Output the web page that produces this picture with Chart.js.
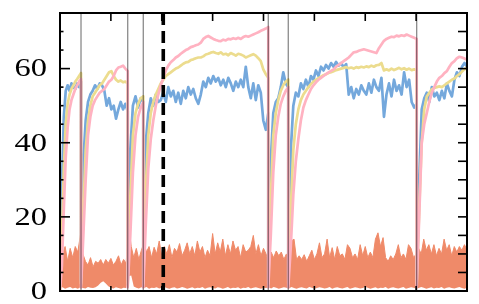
<!DOCTYPE html>
<html><head><meta charset="utf-8">
<script src="https://cdn.jsdelivr.net/npm/chart.js@4"></script>
<style>html,body{margin:0;padding:0;background:#fff}#wrap{width:479px;height:304px;position:relative}
#pre{position:absolute;left:-999px;top:0;font:26px "Liberation Serif";}</style>
</head><body><div id="wrap"><canvas id="c" width="479" height="304"></canvas></div><div id="pre">0246</div>
<script>
// ---- data ----
const taskBounds = [0, 0.413, 1.331, 1.637, 4.094, 4.487, 7.011, 8];
const dashedSwitch = 2.03;
const yLabels = [0, 20, 40, 60];
const xTickValues = [1, 2, 3, 4, 5, 6, 7];

const blueSegs = [
  [2, 28, 47, 54, 55.5, 54, 56, 55, 54.5, 56, 55, 56.5],
  [3, 35, 46, 51, 53, 54, 55.5, 54.5, 56, 55.5, 54, 50, 52, 49, 50, 46.5, 49, 51, 49, 50.5, 48.5],
  [3, 38, 50, 52.5, 49.5, 52, 51],
  [3, 40, 48, 52, 50, 53, 51, 51.5, 53.5, 51, 55, 52.5, 54, 51, 53.5, 50.5, 54, 52, 55, 53, 54.5, 52, 50.5, 53, 56.5, 55, 57.5, 56, 58, 56.5, 57.5, 55.5, 57, 55, 57.5, 56, 54, 56.5, 55, 57, 55, 60.5, 55, 52, 56, 51.5, 55.5, 53.5, 46, 43.5, 48],
  [3, 35, 48, 51, 52, 55, 59, 56, 55],
  [3, 38, 50, 53.5, 52.5, 56, 54.5, 57, 55, 58, 57, 59.5, 58, 60.5, 59.5, 61, 60, 61.5, 60.5, 61.8, 60.8, 61.5, 60.3, 61.2, 53, 55, 52, 54.5, 53, 55.5, 54, 53, 56, 53.5, 57, 55, 54, 57.5, 47, 53, 56, 52.5, 57, 54, 55.5, 53, 59, 55, 57, 51, 49.5, 50.5],
  [3, 30, 49, 52, 53.5, 51, 55, 52.5, 53.5, 51.5, 54, 52, 56, 54, 52.5, 57, 59, 58, 60.5, 61.5, 60.5]
];
const yellowSegs = [
  [0, 14, 33, 45, 50.5, 53, 54.5, 55.5, 56.5, 57.2, 58, 58.8],
  [2, 22, 38, 46, 50, 52.5, 53.5, 54.5, 55.5, 56, 57, 58, 59, 59.3, 58, 57, 56.5, 56.8, 56.3, 56.5, 56],
  [2, 25, 42, 48, 50.5, 52, 52.5],
  [2, 28, 42, 48, 51, 53, 54.5, 56, 57, 58, 58.5, 59, 59.5, 60, 60.3, 60.8, 61.3, 61.7, 61.8, 62.3, 62.5, 62.8, 63, 63, 63.3, 63.8, 64, 64.3, 64.5, 64.2, 64, 64.4, 63.8, 64, 63.6, 64.2, 63.9, 63.5, 64, 63.8, 63.5, 63, 63.3, 63.6, 63.9, 63.5, 62.8, 62, 59.8, 58.5, 57.5],
  [2, 25, 42, 48, 51.5, 54, 55.5, 56.5, 57],
  [2, 22, 38, 45, 49, 51.5, 53, 54, 55, 55.8, 56.5, 57, 57.4, 57.8, 58.2, 58.5, 58.8, 59, 59.3, 59.6, 59.8, 60, 60.2, 60.4, 60.1, 60.3, 60, 60.4, 60.2, 60.5, 60.3, 60.6, 60.4, 60.8, 60.5, 60.9, 61, 61.5, 59.5, 59.8, 59.5, 60, 59.6, 59.9, 60.2, 59.8, 60.1, 59.7, 60, 59.6, 59.8, 59.5],
  [2, 22, 40, 49, 52.5, 53.5, 54.4, 54.8, 55, 55.2, 55, 55.5, 56, 56.5, 57, 57.3, 58, 58.5, 59.2, 59.8, 60.3]
];
const pinkSegs = [
  [0, 7, 22, 36, 44, 49, 51.5, 53, 54.5, 55.5, 56.5, 57.2],
  [1, 15, 30, 42, 47, 50, 51.5, 52.5, 53.5, 54, 54.5, 55.5, 56.5, 57, 58, 59.5, 60.3, 60.5, 60.8, 60, 59.3],
  [1, 15, 32, 42, 47, 49.5, 51],
  [1, 18, 33, 41, 46, 50, 53, 55.5, 57.5, 59.5, 60.8, 61.7, 62.3, 63, 63.4, 64, 64.5, 65, 65.3, 65.8, 66, 66.3, 66.5, 67, 68, 68.5, 68.8, 68.4, 68, 67.7, 67.5, 67.4, 67.8, 67.6, 68, 67.9, 68.2, 68, 68.3, 68, 68.5, 68.8, 68.6, 68.9, 69.2, 69.5, 69.8, 70.2, 70.5, 70.8, 71.2],
  [1, 15, 32, 42, 47, 50.5, 52.5, 54, 55],
  [1, 12, 26, 35, 41, 46, 49.5, 51.5, 53, 54.5, 55.5, 56.3, 57, 57.5, 58, 58.5, 59, 59.4, 59.8, 60.5, 61, 61.5, 62, 62.5, 63, 63.7, 64.4, 64.5, 64.8, 65, 65.2, 65, 64.8, 64.6, 64.4, 64.2, 65.5, 66.5, 67.5, 68, 68.3, 68.6, 68.5, 68.9, 68.7, 69, 68.8, 69.2, 68.9, 68.6, 68.3, 68],
  [1, 20, 40, 45, 48, 51, 53.5, 55, 56.5, 57.5, 58, 58.8, 59.3, 60.5, 61.5, 62, 62.8, 63.2, 63, 62.7, 62.5]
];
const orangeTop = [
  12.5, 10, 12, 8, 11.5, 9, 12, 10.5, 15,
  10, 8, 7, 9, 6.5, 8, 7.5, 8.5, 7, 8.5, 7.5, 8.8, 7, 8, 9.5, 7, 8.5, 7.5,
  18, 12, 9, 11.5, 8.5, 11, 13,
  10.5, 12, 9, 11.8, 10, 13.5, 9.5, 12, 10, 12.5, 9, 11.5, 10.5, 12.8, 9.5, 11, 13, 10, 12, 9.5, 13.5, 10.5, 12, 9, 11, 9.5, 15.5, 10, 13, 10.5, 14, 9.5, 12.5, 10, 13.5, 11, 12, 9, 12.5, 10.5, 11, 12, 15, 10, 12.5, 9.5, 11.5, 10,
  8, 10.5, 9, 10.8, 9.5, 10.5, 8.5, 10,
  9, 13.5, 14, 8.5,
  9.5, 8.5, 9.8, 8, 9.5, 11, 8.5, 10, 13, 9, 10, 14, 9, 11.7, 8.5, 12, 9.5, 10, 8.5, 12.5, 11.5, 9, 10, 8.5, 12.5, 9.5, 12, 9, 10.5, 9, 14, 15.7, 12, 14.4, 9, 8, 9.5, 8.5, 10, 12.5, 9, 10, 8.5, 12.5, 11.5, 9, 10, 11.5, 10, 14, 11, 12.5, 10, 12.5, 9.5, 11.5, 10, 14, 11, 12.5, 9.5, 12, 10.5, 12, 11, 12.5, 11
];
const orangeBottom = [
  0.8, 1, 0.6, 0.9, 1.1, 0.7, 0.9, 0.6, 1.0, 0.8, 0.7, 1.1, 0.9, 0.8, 1.0,
  1.5, 2.2, 2.6, 2.0, 1.3,
  0.9, 0.7, 1.0, 0.8, 0.6, 0.9, 0.8,
  4, 4.2, 1.2,
  0.9, 0.7, 1.0, 0.8, 1.1, 0.6, 0.9, 0.8, 1.0, 0.7,
  0.9, 1.1, 0.8, 0.6, 0.9, 1.0, 0.7, 0.8, 1.1, 0.9,
  0.6, 0.8, 1.0, 0.7, 0.9, 0.8, 1.1, 0.6, 0.9, 1.0,
  0.8, 0.7, 1.0, 0.9, 0.6, 0.8, 1.1, 0.7, 0.9, 0.8,
  1.0, 0.6, 0.9, 0.8, 1.1, 0.7, 0.9, 1.0, 0.8, 0.6,
  0.9, 0.8, 1.0, 0.7, 1.1, 0.9, 0.6, 0.8, 1.0, 0.9,
  0.7, 1.1, 0.8, 0.6, 0.9, 1.0, 0.8, 0.7, 1.1, 0.9,
  0.6, 0.8, 1.0, 0.9, 0.7, 0.8, 1.1, 0.6, 0.9, 1.0,
  0.8, 0.7, 0.9, 1.1, 0.6, 0.8, 1.0, 0.9, 0.7, 0.8,
  1.1, 0.9, 0.6, 0.8, 1.0, 0.7, 0.9, 0.8, 1.1, 0.6,
  0.9, 1.0, 0.8, 0.7, 0.9, 1.1, 0.6, 0.8, 1.0, 0.9,
  0.7, 0.8, 1.1, 0.9, 0.6, 0.8, 1.0, 0.7, 0.9, 0.8,
  1.1, 0.6, 0.9, 1.0, 0.8, 0.7, 0.9, 1.1, 0.8, 0.6, 0.9
];

// ---- build points ----
function segPoints(segs) {
  const pts = [];
  segs.forEach((vals, k) => {
    const a = taskBounds[k], b = taskBounds[k + 1], n = vals.length;
    vals.forEach((v, j) => pts.push({ x: a + (b - a) * j / (n - 1), y: v }));
  });
  return pts;
}
function evenPoints(vals) {
  const n = vals.length, a = taskBounds[0], b = taskBounds[taskBounds.length - 1];
  return vals.map((v, i) => ({ x: a + (b - a) * i / (n - 1), y: v }));
}

const lineStyle = { borderWidth: 2.7, pointRadius: 0, tension: 0, fill: false, borderJoinStyle: 'round' };
const labelFont = '26px "Liberation Serif"';

const framePlugin = {
  id: 'frame',
  afterDatasetsDraw(chart) {
    const { ctx, chartArea: a, scales: { x, y } } = chart;
    ctx.save();
    // task-switch lines, multiplied over the data
    ctx.globalCompositeOperation = 'multiply';
    ctx.strokeStyle = '#8a8a8a';
    ctx.lineWidth = 1.3;
    taskBounds.slice(1, -1).forEach(v => {
      const px = x.getPixelForValue(v);
      ctx.beginPath(); ctx.moveTo(px, a.top); ctx.lineTo(px, a.bottom); ctx.stroke();
    });
    ctx.globalCompositeOperation = 'source-over';
    ctx.strokeStyle = '#000';
    ctx.lineWidth = 3.6;
    ctx.setLineDash([12, 6]);
    const dx = x.getPixelForValue(dashedSwitch);
    ctx.beginPath(); ctx.moveTo(dx, a.top); ctx.lineTo(dx, a.bottom); ctx.stroke();
    ctx.setLineDash([]);
    ctx.lineWidth = 2;
    ctx.strokeRect(a.left, a.top, a.right - a.left, a.bottom - a.top);
    ctx.lineWidth = 1.6;
    for (let v = 0; v <= y.max; v += 5) {
      const py = y.getPixelForValue(v);
      const major = yLabels.includes(v);
      ctx.beginPath(); ctx.moveTo(a.left, py); ctx.lineTo(a.left + (major ? 10 : 3.5), py); ctx.stroke();
      ctx.beginPath(); ctx.moveTo(a.right, py); ctx.lineTo(a.right - 9, py); ctx.stroke();
    }
    xTickValues.forEach(v => {
      const px = x.getPixelForValue(v);
      ctx.beginPath(); ctx.moveTo(px, a.top); ctx.lineTo(px, a.top + 8); ctx.stroke();
      ctx.beginPath(); ctx.moveTo(px, a.bottom); ctx.lineTo(px, a.bottom - 5); ctx.stroke();
    });
    ctx.fillStyle = '#000';
    ctx.font = labelFont;
    ctx.textAlign = 'right';
    ctx.textBaseline = 'middle';
    yLabels.forEach(v => {
      const py = y.getPixelForValue(v);
      ctx.save();
      ctx.translate(a.left - 13, py + 1);
      ctx.scale(1.25, 1);
      ctx.fillText(String(v), 0, 0);
      ctx.restore();
    });
    ctx.restore();
  }
};

function draw() {
  new Chart(document.getElementById('c'), {
    type: 'line',
    data: {
      datasets: [
        Object.assign({ label: 'C', data: segPoints(pinkSegs), borderColor: '#ffb2c1', order: 1 }, lineStyle),
        Object.assign({ label: 'B', data: segPoints(yellowSegs), borderColor: '#ecdc8e', order: 2 }, lineStyle),
        Object.assign({ label: 'A', data: segPoints(blueSegs), borderColor: '#74a8dc', order: 3 }, lineStyle),
        { label: 'loss', data: evenPoints(orangeTop), borderColor: '#ef8a69', backgroundColor: '#ef8a69', borderWidth: 1, pointRadius: 0, tension: 0, fill: 4, order: 4 },
        { label: 'lossLow', data: evenPoints(orangeBottom), borderColor: 'rgba(0,0,0,0)', borderWidth: 0, pointRadius: 0, tension: 0, fill: false, order: 5 }
      ]
    },
    options: {
      responsive: false,
      animation: false,
      layout: { padding: { left: 60, top: 13, right: 12, bottom: 13 } },
      plugins: { legend: { display: false }, tooltip: { enabled: false } },
      scales: {
        x: { type: 'linear', min: 0, max: 8, display: false },
        y: { type: 'linear', min: 0, max: 75, display: false }
      }
    },
    plugins: [framePlugin]
  });
}
if (document.fonts && document.fonts.load) {
  document.fonts.load(labelFont).then(draw, draw);
} else { draw(); }
</script>
</body></html>
